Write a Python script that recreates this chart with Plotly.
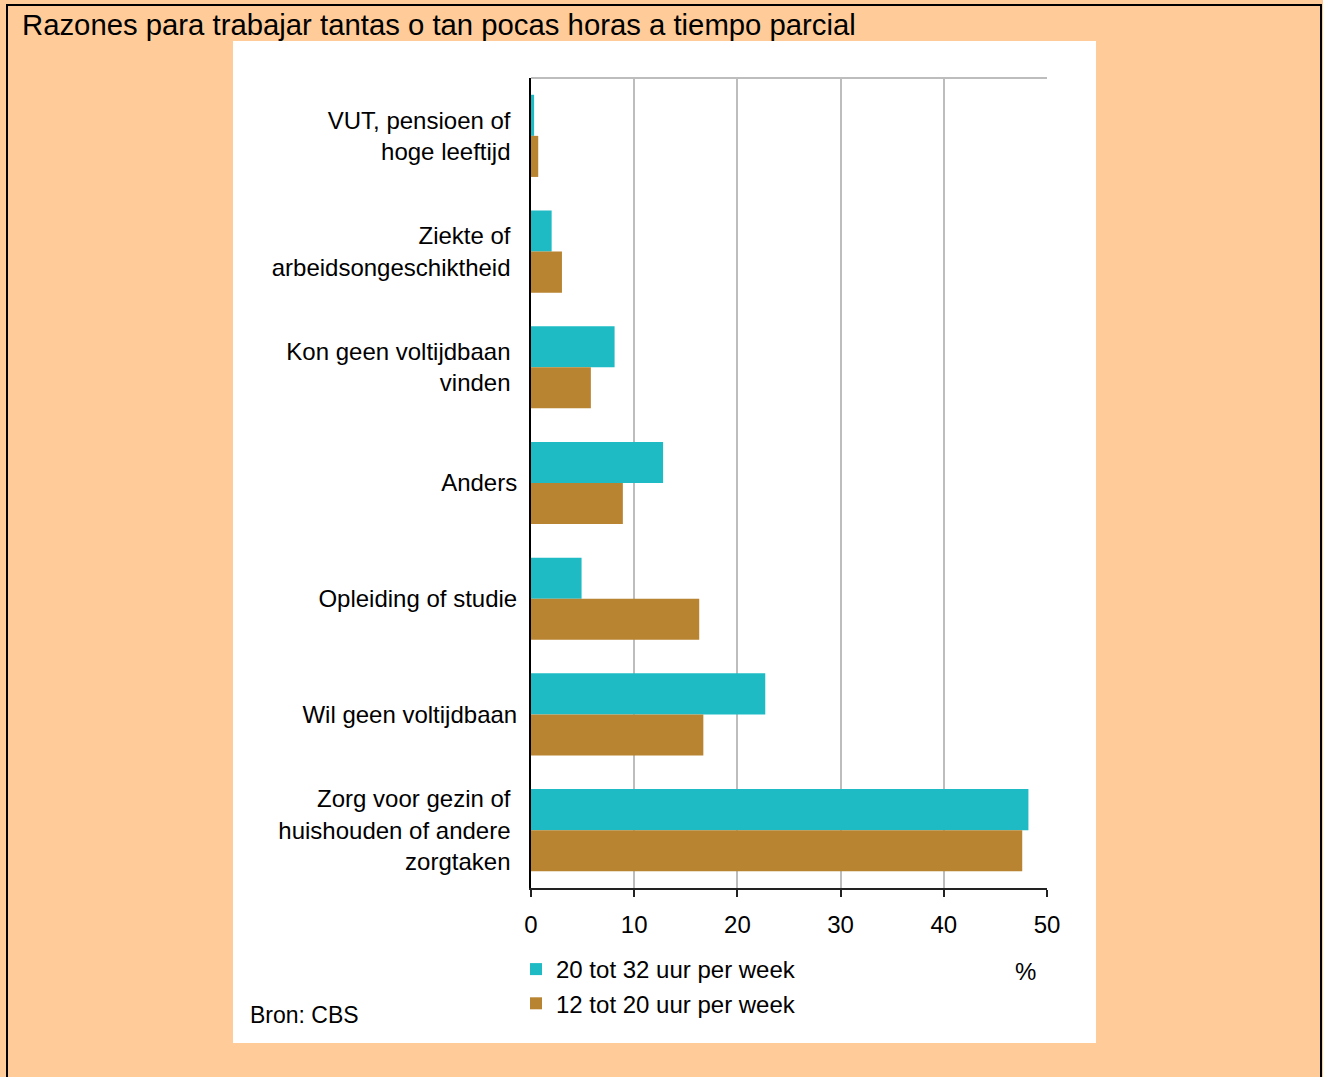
import plotly.graph_objects as go

# ---- data ----
categories = [
    "VUT, pensioen of<br>hoge leeftijd",
    "Ziekte of<br>arbeidsongeschiktheid",
    "Kon geen voltijdbaan<br>vinden",
    "Anders",
    "Opleiding of studie",
    "Wil geen voltijdbaan",
    "Zorg voor gezin of<br>huishouden of andere<br>zorgtaken",
]
series_names = ["20 tot 32 uur per week", "12 tot 20 uur per week"]
values_20_32 = [0.3, 2.0, 8.1, 12.8, 4.9, 22.7, 48.2]
values_12_20 = [0.7, 3.0, 5.8, 8.9, 16.3, 16.7, 47.6]
x_ticks = [0, 10, 20, 30, 40, 50]

title_text = "Razones para trabajar tantas o tan pocas horas a tiempo parcial"
source_text = "Bron: CBS"
unit_text = "%"

# ---- styling ----
TEAL = "#1EBBC5"
BROWN = "#B98431"
PEACH = "#FFCC99"
FONT = "Liberation Sans, Arial, sans-serif"
NB = "\u00a0"

W, H = 1323, 1077
L, R, T, B = 531, W - 1047, 78, H - 888
PW, PH = W - L - R, H - T - B


def px_x(px):
    return (px - L) / PW


def px_y(py):
    return (H - B - py) / PH


def pad(label):
    lines = label.split("<br>")
    if len(lines) == 1:
        return label
    return "<br>".join(l + NB for l in lines)


ticktext = [pad(c) for c in categories]

fig = go.Figure()
fig.add_trace(go.Bar(
    y=categories, x=values_20_32, name=series_names[0], orientation="h",
    marker=dict(color=TEAL, line=dict(width=0)), legendgroup="a",
))
fig.add_trace(go.Bar(
    y=categories, x=values_12_20, name=series_names[1], orientation="h",
    marker=dict(color=BROWN, line=dict(width=0)), legendgroup="b",
))

fig.update_layout(
    width=W, height=H,
    margin=dict(l=L, r=R, t=T, b=B, pad=0),
    paper_bgcolor=PEACH,
    plot_bgcolor="white",
    barmode="group",
    bargap=0.29,
    bargroupgap=0,
    font=dict(family=FONT, size=24, color="black"),
    title=dict(
        text=title_text, xref="container", yref="container",
        x=22 / W, xanchor="left", y=1 - 25 / H, yanchor="middle",
        font=dict(family=FONT, size=29.3, color="black"),
    ),
    showlegend=True,
    legend=dict(
        x=px_x(516), xanchor="left", y=px_y(947), yanchor="top",
        bgcolor="rgba(0,0,0,0)", borderwidth=0,
        traceorder="grouped", tracegroupgap=0,
        font=dict(family=FONT, size=24, color="black"),
    ),
    xaxis=dict(
        range=[0, 50], tickvals=x_ticks, ticktext=[str(v) for v in x_ticks],
        showgrid=True, gridcolor="#BDBDBD", gridwidth=2,
        showline=True, linecolor="#222222", linewidth=2,
        ticks="outside", ticklen=7, tickwidth=1.5, tickcolor="#222222",
        ticklabelstandoff=7, zeroline=False, fixedrange=True,
    ),
    yaxis=dict(
        categoryorder="array", categoryarray=categories,
        tickvals=categories, ticktext=ticktext,
        autorange="reversed",
        showgrid=False, showline=True, linecolor="black", linewidth=2,
        ticks="", ticklabelstandoff=7, zeroline=False, fixedrange=True,
    ),
    shapes=[
        # white chart panel
        dict(type="rect", xref="paper", yref="paper", layer="below",
             x0=px_x(233), x1=px_x(1096), y0=px_y(1043), y1=px_y(41),
             fillcolor="white", line=dict(width=0)),
        # outer black border
        dict(type="rect", xref="paper", yref="paper", layer="above",
             x0=px_x(7), x1=px_x(1321), y0=px_y(1090), y1=px_y(5),
             fillcolor="rgba(0,0,0,0)", line=dict(color="black", width=2)),
        # top frame line of plot area
        dict(type="line", xref="paper", yref="paper", layer="above",
             x0=0, x1=1, y0=1, y1=1, line=dict(color="#BDBDBD", width=2)),
    ],
    annotations=[
        dict(text=source_text, xref="paper", yref="paper",
             x=px_x(248), xanchor="left", y=px_y(1015), yanchor="middle",
             showarrow=False, font=dict(family=FONT, size=23, color="black")),
        dict(text=unit_text, xref="paper", yref="paper",
             x=px_x(1025), xanchor="center", y=px_y(971), yanchor="middle",
             showarrow=False, font=dict(family=FONT, size=24, color="black")),
    ],
)

fig.write_html(
    "out.html",
    config={"displayModeBar": False},
    post_script="document.body.style.margin='0';document.documentElement.style.overflow='hidden';",
)
